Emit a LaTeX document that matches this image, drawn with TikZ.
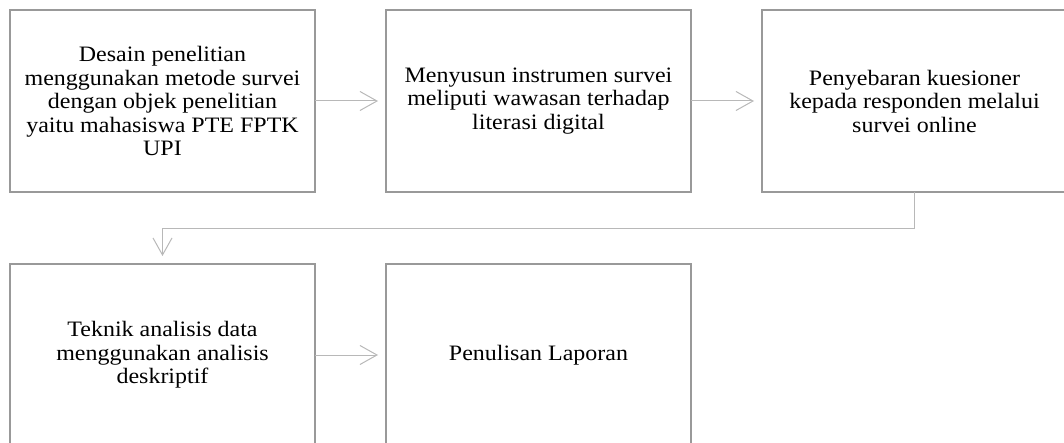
\documentclass[tikz,border=0pt]{standalone}
\usepackage{fontspec}
\setmainfont{Liberation Serif}[FakeStretch=1.09]
\usetikzlibrary{positioning,arrows.meta}
\tikzset{dbox/.style={draw=black!40, line width=1.6pt, outer sep=0pt, minimum width=305pt, minimum height=182pt, align=center, font={\fontsize{22}{23.5}\selectfont}}}
\tikzset{arr/.style={draw=black!28, line width=1pt, -{Straight Barb[length=17pt, width=19pt]}, shorten >=8pt}}

\begin{document}
\begin{tikzpicture}
				\useasboundingbox (0,0) rectangle (1064pt,-443pt);
				%
				\node[dbox, anchor=north west] (D) at (10pt,-10pt)
					{Desain penelitian\\menggunakan metode survei\\dengan objek penelitian\\yaitu mahasiswa PTE FPTK\\UPI};
				\node[dbox, right=71pt of D] (I)
					{Menyusun instrumen survei\\meliputi wawasan terhadap\\literasi digital};
				\node[dbox, right=71pt of I] (K)
					{Penyebaran kuesioner\\kepada responden melalui\\survei online};
				\node[dbox, below=72pt of D] (T)
					{Teknik analisis data\\menggunakan analisis\\deskriptif};
				\node[dbox, right=71pt of T] (L) {Penulisan Laporan};
				%
				\draw[arr] (D) -- (I);
				\draw[arr] (I) -- (K);
				\draw[arr] (K.south) -- ++(0,-37pt) -| (T.north);
				\draw[arr] (T) -- (L);
			\end{tikzpicture}
\end{document}
